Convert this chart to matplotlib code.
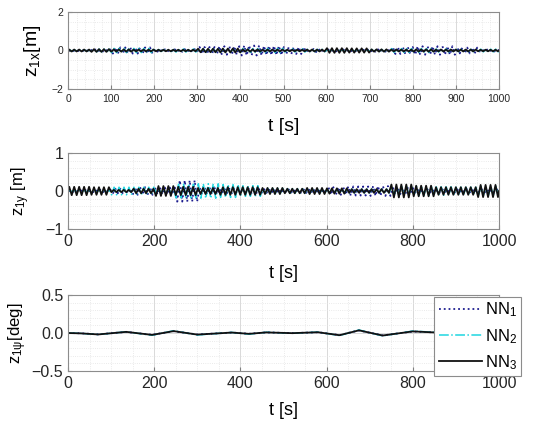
import numpy as np
import matplotlib
matplotlib.use("Agg")
import matplotlib.pyplot as plt
from matplotlib.ticker import MultipleLocator

plt.rcParams['font.family'] = ['Liberation Sans', 'DejaVu Sans']
plt.rcParams['mathtext.fontset'] = 'custom'
plt.rcParams['mathtext.rm'] = 'Liberation Sans'
plt.rcParams['mathtext.it'] = 'Liberation Sans:italic'

# ---------------- data ----------------
series_names = ['NN$_1$', 'NN$_2$', 'NN$_3$']
seg_len = 50          # amplitudes below are given per 50 s segment (0-50, 50-100, ...)
period_s = 11.5

# z1x oscillation amplitude per 50 s segment [m]
z1x_nn1 = [0.02, 0.05, 0.16, 0.16, 0.06, 0.07, 0.18, 0.22, 0.26, 0.24, 0.18, 0.08, 0.05, 0.04, 0.06, 0.18, 0.22, 0.22, 0.15, 0.05]
z1x_nn2 = [0.03, 0.07, 0.11, 0.11, 0.05, 0.08, 0.09, 0.09, 0.10, 0.11, 0.08, 0.06, 0.04, 0.04, 0.05, 0.10, 0.10, 0.08, 0.06, 0.07]
z1x_nn3 = [0.05, 0.07, 0.06, 0.05, 0.04, 0.04, 0.09, 0.10, 0.06, 0.05, 0.04, 0.05, 0.12, 0.11, 0.06, 0.05, 0.06, 0.05, 0.05, 0.04]

# z1y oscillation amplitude per 50 s segment [m]
z1y_nn1 = [0.02, 0.03, 0.06, 0.10, 0.09, 0.28, 0.09, 0.06, 0.05, 0.05, 0.04, 0.05, 0.10, 0.12, 0.13, 0.08, 0.04, 0.04, 0.04, 0.04]
z1y_nn2 = [0.02, 0.04, 0.10, 0.10, 0.06, 0.18, 0.19, 0.17, 0.14, 0.07, 0.06, 0.06, 0.05, 0.05, 0.05, 0.12, 0.12, 0.11, 0.10, 0.12]
z1y_nn3 = [0.11, 0.10, 0.03, 0.06, 0.13, 0.11, 0.08, 0.10, 0.10, 0.08, 0.06, 0.08, 0.07, 0.05, 0.05, 0.17, 0.14, 0.10, 0.10, 0.16]

# z1psi slow drift, values at turning points [deg]
psi_t   = [0, 30, 70, 135, 195, 245, 300, 380, 420, 460, 520, 580, 630, 675, 730, 800, 860, 920, 1000]
psi_nn1 = [0, -0.004, -0.018, 0.014, -0.024, 0.024, -0.020, 0.006, -0.010, 0.008, -0.002, 0.010, -0.028, 0.034, -0.032, 0.020, 0.006, 0.002, 0.0]
psi_nn2 = [0, -0.005, -0.020, 0.016, -0.030, 0.030, -0.026, 0.008, -0.016, 0.010, -0.004, 0.012, -0.034, 0.040, -0.038, 0.026, 0.006, 0.002, 0.0]
psi_nn3 = [0, -0.005, -0.019, 0.015, -0.025, 0.025, -0.021, 0.006, -0.011, 0.008, -0.002, 0.010, -0.029, 0.035, -0.033, 0.021, 0.005, 0.001, 0.0]

colors = ['#1c1c8f', '#1fd6e0', '#111111']
styles = [':', '-.', '-']
widths = [1.3, 1.1, 1.3]
phase = [0.3, 0.05, 0.0]


def zigzag(amps, shift):
    """Turning points of the oscillation: each half period takes the
    amplitude of its segment, with alternating sign."""
    half = period_s / 2.0
    tk = np.arange(shift * period_s + half / 2, 1000, half)
    idx = np.minimum((tk // seg_len).astype(int), len(amps) - 1)
    sign = np.where(np.arange(len(tk)) % 2 == 0, 1.0, -1.0)
    vals = np.asarray(amps)[idx] * sign
    return np.concatenate([[0.0], tk, [1000]]), np.concatenate([[0.0], vals, [0.0]])


W, H = 550, 429
fig = plt.figure(figsize=(W / 100, H / 100), dpi=100)

def make_ax(top_px, bot_px):
    return fig.add_axes([68 / W, 1 - bot_px / H, 431 / W, (bot_px - top_px) / H])

ax1 = make_ax(12, 89)
ax2 = make_ax(153, 229)
ax3 = make_ax(295, 371)

def style(ax, ylim, ymaj, ymin, xmaj, xmin, tsize):
    ax.set_xlim(0, 1000)
    ax.set_ylim(*ylim)
    ax.xaxis.set_major_locator(MultipleLocator(xmaj))
    ax.xaxis.set_minor_locator(MultipleLocator(xmin))
    ax.yaxis.set_major_locator(MultipleLocator(ymaj))
    ax.yaxis.set_minor_locator(MultipleLocator(ymin))
    ax.grid(True, which='major', color='#d9d9d9', lw=0.7, ls='-')
    ax.grid(True, which='minor', color='#e3e3e3', lw=0.6, ls=':')
    ax.set_axisbelow(True)
    ax.tick_params(which='both', direction='in', colors='#7f7f7f',
                   labelcolor='#262626', labelsize=tsize, top=False, right=False)
    ax.tick_params(which='minor', length=0)
    ax.tick_params(which='major', length=3)
    for s in ax.spines.values():
        s.set_color('#8c8c8c')
        s.set_linewidth(0.8)

style(ax1, (-2, 2), 2, 0.5, 100, 20, 7.5)
style(ax2, (-1, 1), 1, 0.2, 200, 50, 11.5)
style(ax3, (-0.5, 0.5), 0.5, 0.1, 200, 50, 11.5)

for i, amps in enumerate([z1x_nn1, z1x_nn2, z1x_nn3]):
    tx, vx = zigzag(amps, phase[i])
    ax1.plot(tx, vx, ls=styles[i], color=colors[i], lw=widths[i])
for i, amps in enumerate([z1y_nn1, z1y_nn2, z1y_nn3]):
    ty, vy = zigzag(amps, phase[i])
    ax2.plot(ty, vy, ls=styles[i], color=colors[i], lw=widths[i])
lines = []
for i, vals in enumerate([psi_nn1, psi_nn2, psi_nn3]):
    ln, = ax3.plot(psi_t, vals, ls=styles[i], color=colors[i], lw=widths[i],
                   label=series_names[i])
    lines.append(ln)

ax1.set_xlabel('t [s]', fontsize=14)
ax1.xaxis.set_label_coords(0.5, -0.38)
ax1.set_ylabel(r'$\mathrm{z_{1x}}$[m]', fontsize=14)
ax1.yaxis.set_label_coords(-0.058, 0.5)

ax2.set_xlabel('t [s]', fontsize=13)
ax2.xaxis.set_label_coords(0.5, -0.47)
ax2.set_ylabel(r'$\mathrm{z_{1y}}$ [m]', fontsize=12)
ax2.yaxis.set_label_coords(-0.083, 0.5)

ax3.set_xlabel('t [s]', fontsize=13)
ax3.xaxis.set_label_coords(0.5, -0.41)
ax3.set_ylabel(r'$\mathrm{z_{1\psi}}$[deg]', fontsize=12)
ax3.yaxis.set_label_coords(-0.09, 0.5)

leg = ax3.legend(handles=lines, loc='upper left', bbox_to_anchor=(0.85, 0.98),
                 fontsize=12, handlelength=2.6, handletextpad=0.2,
                 borderpad=0.25, labelspacing=0.45, fancybox=False,
                 framealpha=1.0, edgecolor='#8c8c8c', borderaxespad=0)
leg.get_frame().set_linewidth(0.8)
leg.set_zorder(10)

fig.savefig('out.png', dpi=100)
